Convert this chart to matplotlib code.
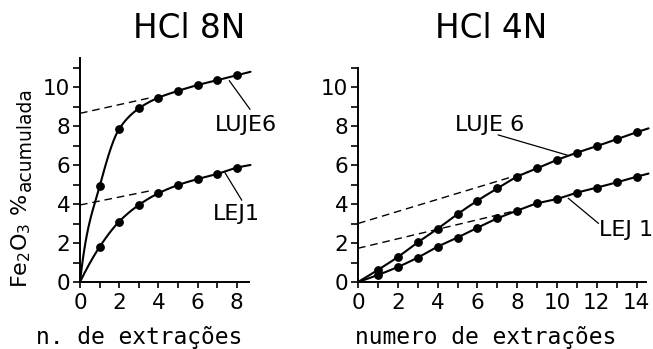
import numpy as np
import matplotlib
matplotlib.use("Agg")
import matplotlib.pyplot as plt
from matplotlib.font_manager import FontProperties

# ---------------- data ----------------
n_8n = [1, 2, 3, 4, 5, 6, 7, 8]
luje6_8n = [4.9, 7.85, 8.9, 9.45, 9.8, 10.1, 10.35, 10.6]
lej1_8n = [1.8, 3.1, 3.95, 4.55, 4.97, 5.28, 5.54, 5.86]
end_x_8n = 8.7
luje6_8n_end = 10.78
lej1_8n_end = 6.0

n_4n = [1, 2, 3, 4, 5, 6, 7, 8, 9, 10, 11, 12, 13, 14]
luje6_4n = [0.62, 1.28, 2.03, 2.73, 3.48, 4.17, 4.8, 5.4, 5.83, 6.26, 6.63, 6.97, 7.32, 7.68]
lej1_4n = [0.36, 0.77, 1.25, 1.81, 2.28, 2.78, 3.26, 3.66, 4.03, 4.26, 4.58, 4.84, 5.11, 5.4]
end_x_4n = 14.6
luje6_4n_end = 7.88
lej1_4n_end = 5.56

# initial slope of the hand-drawn curve at the origin (None = automatic)
start_slope_luje6_8n = 9.0

# dashed asymptote lines (x pair, y pair)
dash_8n_luje6 = ([0, 3.6], [8.65, 9.45])
dash_8n_lej1 = ([0, 3.6], [3.95, 4.68])
dash_4n_luje6 = ([0, 8.6], [3.0, 5.66])
dash_4n_lej1 = ([0, 8.1], [1.73, 3.7])

titles = ["HCl 8N", "HCl 4N"]
xlabels = ["n. de extrações", "numero de extrações"]
xticks_8n = [0, 2, 4, 6, 8]
xticks_4n = [0, 2, 4, 6, 8, 10, 12, 14]
yticks = [0, 2, 4, 6, 8, 10]


def pchip(x, y, xs, m0=None):
    x = np.asarray(x, float)
    y = np.asarray(y, float)
    h = np.diff(x)
    d = np.diff(y) / h
    n = len(x)
    m = np.zeros(n)
    for k in range(1, n - 1):
        if d[k - 1] * d[k] > 0:
            w1 = 2 * h[k] + h[k - 1]
            w2 = h[k] + 2 * h[k - 1]
            m[k] = (w1 + w2) / (w1 / d[k - 1] + w2 / d[k])

    def endslope(h0, h1, d0, d1):
        s = ((2 * h0 + h1) * d0 - h0 * d1) / (h0 + h1)
        if np.sign(s) != np.sign(d0):
            s = 0.0
        elif np.sign(d0) != np.sign(d1) and abs(s) > abs(3 * d0):
            s = 3 * d0
        return s

    m[0] = endslope(h[0], h[1], d[0], d[1]) if m0 is None else m0
    m[-1] = endslope(h[-1], h[-2], d[-1], d[-2])
    idx = np.clip(np.searchsorted(x, xs) - 1, 0, n - 2)
    t = (xs - x[idx]) / h[idx]
    h00 = 2 * t**3 - 3 * t**2 + 1
    h10 = t**3 - 2 * t**2 + t
    h01 = -2 * t**3 + 3 * t**2
    h11 = t**3 - t**2
    return (h00 * y[idx] + h10 * h[idx] * m[idx]
            + h01 * y[idx + 1] + h11 * h[idx] * m[idx + 1])


def smooth(xd, yd, xend, yend, m0=None):
    xa = np.array([0.0] + list(xd) + [xend])
    ya = np.array([0.0] + list(yd) + [yend])
    xs = np.linspace(0, xend, 500)
    return xs, pchip(xa, ya, xs, m0)


W, H = 653, 349
fig = plt.figure(figsize=(W / 100, H / 100), dpi=100)

tick_fp = FontProperties(family="DejaVu Sans", size=15.5)
lab_font = dict(family="DejaVu Sans", size=16)


def make_axes(left_px, y0_px, xmax, ymax, pxx, pxy):
    ax = fig.add_axes([left_px / W, (H - y0_px) / H,
                       xmax * pxx / W, ymax * pxy / H])
    ax.set_xlim(0, xmax)
    ax.set_ylim(0, ymax)
    for s in ["top", "right"]:
        ax.spines[s].set_visible(False)
    for s in ["left", "bottom"]:
        ax.spines[s].set_linewidth(1.4)
    ax.set_yticks(yticks)
    ax.set_yticks([1, 3, 5, 7, 9, 11], minor=True)
    ax.tick_params(axis="y", which="both", direction="out", length=5, width=1.2, pad=2)
    ax.tick_params(axis="x", which="both", direction="out", length=4, width=1.2, pad=4)
    ax.set_facecolor("none")
    return ax


ax1 = make_axes(80, 282, 8.6, 11.5, 19.6, 19.5)
ax2 = make_axes(358, 282, 14.45, 11.0, 19.9, 19.5)

ax1.set_xticks(xticks_8n)
ax1.set_xticks(n_8n, minor=True)
ax2.set_xticks(xticks_4n)
ax2.set_xticks(n_4n, minor=True)

for ax in (ax1, ax2):
    for lbl in ax.get_xticklabels() + ax.get_yticklabels():
        lbl.set_fontproperties(tick_fp)

line_kw = dict(color="black", lw=1.5, clip_on=False, solid_capstyle="round")
mk_kw = dict(color="black", marker="o", ms=5.3, ls="none", clip_on=False, zorder=3)
dash_kw = dict(color="black", lw=1.0, dashes=(5.5, 3.5), clip_on=False)
lead_kw = dict(color="black", lw=0.9, clip_on=False)

# HCl 8N
xs, ys = smooth(n_8n, luje6_8n, end_x_8n, luje6_8n_end, m0=start_slope_luje6_8n)
ax1.plot(xs, ys, **line_kw)
xs, ys = smooth(n_8n, lej1_8n, end_x_8n, lej1_8n_end)
ax1.plot(xs, ys, **line_kw)
ax1.plot(n_8n, luje6_8n, **mk_kw)
ax1.plot(n_8n, lej1_8n, **mk_kw)
ax1.plot(*dash_8n_luje6, **dash_kw)
ax1.plot(*dash_8n_lej1, **dash_kw)
ax1.plot([7.62, 8.67], [10.32, 8.86], **lead_kw)
ax1.plot([7.4, 8.25], [5.6, 4.2], **lead_kw)
ax1.text(6.9, 8.05, "LUJE6", ha="left", va="center", **lab_font)
ax1.text(6.8, 3.5, "LEJ1", ha="left", va="center", **lab_font)

# HCl 4N
xs, ys = smooth(n_4n, luje6_4n, end_x_4n, luje6_4n_end)
ax2.plot(xs, ys, **line_kw)
xs, ys = smooth(n_4n, lej1_4n, end_x_4n, lej1_4n_end)
ax2.plot(xs, ys, **line_kw)
ax2.plot(n_4n, luje6_4n, **mk_kw)
ax2.plot(n_4n, lej1_4n, **mk_kw)
ax2.plot(*dash_4n_luje6, **dash_kw)
ax2.plot(*dash_4n_lej1, **dash_kw)
ax2.plot([7.05, 10.5], [7.54, 6.51], **lead_kw)
ax2.plot([10.57, 12.08], [4.29, 3.01], **lead_kw)
ax2.text(4.87, 8.05, "LUJE 6", ha="left", va="center", **lab_font)
ax2.text(12.1, 2.67, "LEJ 1", ha="left", va="center", **lab_font)

# titles
fig.text(189 / W, (H - 38) / H, titles[0], ha="center", va="baseline",
         family="DejaVu Sans", size=23.5)
fig.text(491 / W, (H - 38) / H, titles[1], ha="center", va="baseline",
         family="DejaVu Sans", size=23.5)

# x labels
fig.text(139 / W, (H - 344) / H, xlabels[0], ha="center", va="baseline",
         family="DejaVu Sans Mono", size=16.5)
fig.text(486 / W, (H - 344) / H, xlabels[1], ha="center", va="baseline",
         family="DejaVu Sans Mono", size=16.5)

# y label (two parts)
fig.text(21 / W, (H - 288) / H, "Fe$_2$O$_3$ %", rotation=90, ha="center", va="bottom",
         family="DejaVu Sans", size=16)
fig.text(25 / W, (H - 87) / H, "acumulada", rotation=90, ha="center", va="top",
         family="DejaVu Sans", size=13.5)

fig.savefig("out.png", dpi=100)
